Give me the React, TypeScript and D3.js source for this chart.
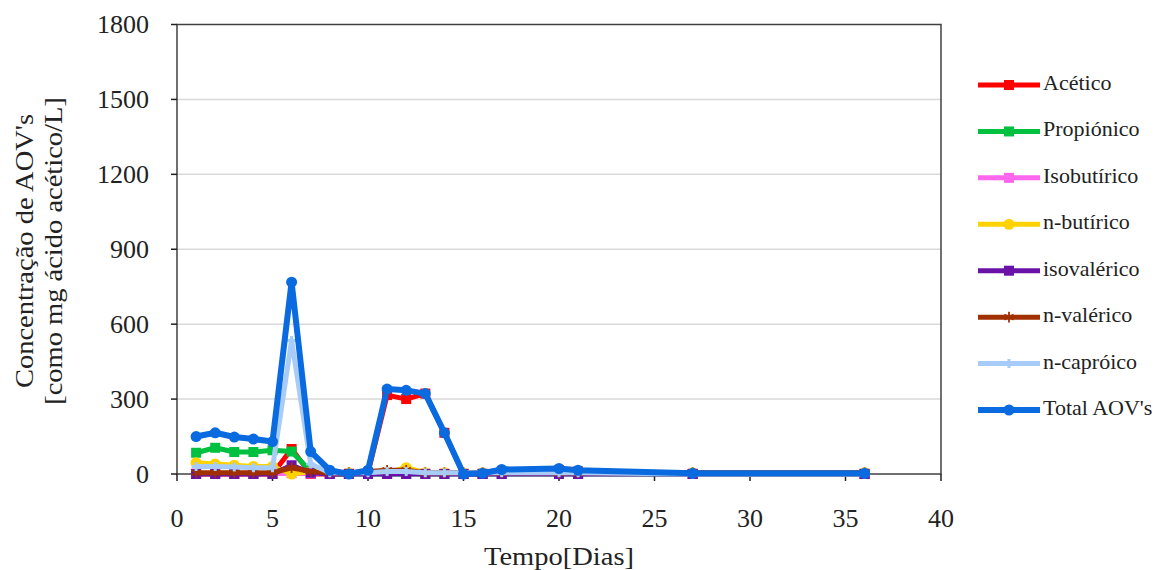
import React from "react";
import * as d3 from "d3";

const days = [1, 2, 3, 4, 5, 6, 7, 8, 9, 10, 11, 12, 13, 14, 15, 16, 17, 20, 21, 27, 36];
const acetico = [0, 0, 0, 0, 0, 100, 0, 0, 0, 5, 316, 300, 322, 165, 0, 0, 10, 15, 10, 0, 0];
const propionico = [85, 105, 88, 88, 95, 90, 10, 0, 0, 0, 0, 0, 0, 0, 0, 0, 0, 0, 0, 0, 0];
const isobutirico = [2, 2, 2, 2, 2, 3, 2, 2, 2, 2, 2, 2, 2, 2, 2, 2, 2, 2, 2, 2, 2];
const nbutirico = [45, 40, 35, 30, 30, 0, 10, 5, 5, 5, 5, 25, 5, 5, 5, 5, 5, 5, 5, 5, 5];
const isovalerico = [0, 0, 0, 0, 0, 35, 5, 0, 0, 0, 0, 0, 0, 0, 0, 0, 0, 0, 0, 0, 0];
const nvalerico = [5, 5, 5, 5, 5, 25, 10, 5, 5, 10, 15, 15, 5, 5, 5, 5, 5, 5, 5, 5, 5];
const ncaproico = [30, 30, 28, 25, 25, 535, 40, 5, 5, 5, 10, 10, 5, 5, 5, 5, 5, 5, 5, 0, 0];
const total = [150, 165, 148, 140, 130, 768, 90, 15, 0, 15, 340, 335, 322, 165, 0, 3, 18, 22, 15, 3, 3];

const xTicks = [0, 5, 10, 15, 20, 25, 30, 35, 40];
const yTicks = [0, 300, 600, 900, 1200, 1500, 1800];

const seriesNames = ["Acético", "Propiónico", "Isobutírico", "n-butírico", "isovalérico", "n-valérico", "n-capróico", "Total AOV's"];
const seriesValues = [acetico, propionico, isobutirico, nbutirico, isovalerico, nvalerico, ncaproico, total];
const seriesColors = ["#ff0000", "#00c040", "#ff66ee", "#ffd200", "#6a12a8", "#a03000", "#a8ccf8", "#0a6ae0"];
const seriesSymbols = ["square", "square", "square", "circle", "square", "asterisk", "plus", "circle"];

const FONT = "'Liberation Serif', 'Times New Roman', serif";

function Marker({ kind, x, y, color }: { kind: string; x: number; y: number; color: string }) {
  if (kind === "square") return <rect x={x - 5} y={y - 5} width={10} height={10} fill={color} />;
  if (kind === "circle") return <circle cx={x} cy={y} r={5.5} fill={color} />;
  if (kind === "asterisk") {
    const p = d3.symbol(d3.symbolAsterisk, 80)();
    return <path d={p || ""} transform={`translate(${x},${y})`} fill="none" stroke={color} strokeWidth={1.8} />;
  }
  const p = d3.symbol(d3.symbolCross, 45)();
  return <path d={p || ""} transform={`translate(${x},${y})`} fill={color} />;
}

export default function App() {
  const x = d3.scaleLinear().domain([0, 40]).range([177, 941]);
  const y = d3.scaleLinear().domain([0, 1800]).range([474, 24.5]);
  const line = d3
    .line<[number, number]>()
    .x((d) => x(d[0]))
    .y((d) => y(d[1]));

  const legendY = d3.scaleLinear().domain([0, 7]).range([85, 410]);

  return (
    <svg width={1160} height={570} style={{ position: "absolute", left: 0, top: 0, background: "#fff" }} fontFamily={FONT}>
      {/* grid */}
      {yTicks.slice(1, -1).map((t) => (
        <line key={t} x1={x(0)} x2={x(40)} y1={y(t)} y2={y(t)} stroke="#d9d9d9" strokeWidth={1.5} />
      ))}
      {/* box */}
      <rect x={x(0)} y={y(1800)} width={x(40) - x(0)} height={y(0) - y(1800)} fill="none" stroke="#404040" strokeWidth={1.5} />
      {/* y ticks */}
      {yTicks.map((t) => (
        <g key={t}>
          <line x1={x(0) - 6} x2={x(0)} y1={y(t)} y2={y(t)} stroke="#202020" strokeWidth={1.5} />
          <text x={149} y={y(t) + 3} fontSize={26} textAnchor="end" dominantBaseline="middle" fill="#222">
            {t}
          </text>
        </g>
      ))}
      {/* x ticks */}
      {xTicks.map((t) => (
        <g key={t}>
          <line x1={x(t)} x2={x(t)} y1={y(0)} y2={y(0) + 7} stroke="#202020" strokeWidth={1.5} />
          <text x={x(t)} y={527} fontSize={26} textAnchor="middle" fill="#222">
            {t}
          </text>
        </g>
      ))}
      {/* series */}
      {seriesValues.map((vals, i) => {
        const pts: [number, number][] = days.map((d, j) => [d, vals[j]]);
        return (
          <g key={seriesNames[i]}>
            <path d={line(pts) || ""} fill="none" stroke={seriesColors[i]} strokeWidth={i === 7 ? 6 : 5} strokeLinejoin="round" />
            {pts.map((p, j) => (
              <Marker key={j} kind={seriesSymbols[i]} x={x(p[0])} y={y(p[1])} color={seriesColors[i]} />
            ))}
          </g>
        );
      })}
      {/* axis titles */}
      <g transform="translate(559,565) scale(1.14,1)">
        <text x={0} y={0} fontSize={25} textAnchor="middle" fill="#222">
          Tempo[Dias]
        </text>
      </g>
      <g transform="translate(33,251) rotate(-90) scale(1.14,1)">
        <text x={0} y={0} fontSize={25} textAnchor="middle" fill="#222">
          Concentração de AOV's
        </text>
        <text x={0} y={29} fontSize={25} textAnchor="middle" fill="#222">
          [como mg ácido acético/L]
        </text>
      </g>
      {/* legend */}
      {seriesNames.map((n, i) => {
        const ly = legendY(i);
        return (
          <g key={n}>
            <line x1={978} x2={1040} y1={ly} y2={ly} stroke={seriesColors[i]} strokeWidth={i === 7 ? 6 : 5} />
            <Marker kind={seriesSymbols[i]} x={1009} y={ly} color={seriesColors[i]} />
            <text x={1043} y={ly} fontSize={22} dominantBaseline="middle" fill="#222">
              {n}
            </text>
          </g>
        );
      })}
    </svg>
  );
}
